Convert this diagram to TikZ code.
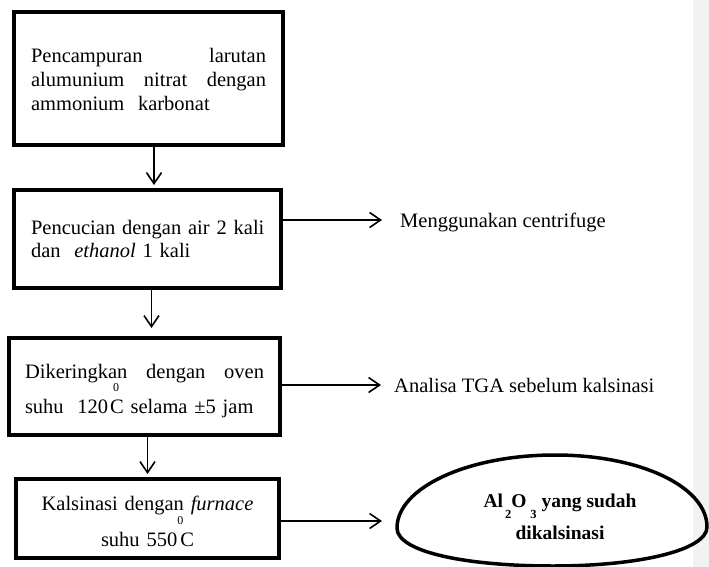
\documentclass[tikz,border=0pt]{standalone}
\usepackage{fontspec}
\setmainfont{Liberation Serif}
\usetikzlibrary{arrows.meta}
\definecolor{panel}{RGB}{242,242,242}
\newcommand\degz[2]{\makebox[0pt][l]{\hspace{#2}\raisebox{#1}[0pt][0pt]{\fontsize{12}{12}\selectfont 0}}}
\newcommand\subl[1]{\raisebox{-11pt}[0pt][0pt]{\fontsize{12.5}{12.5}\selectfont #1}}
\newcommand\jline[2]{\leavevmode\hbox to #1{#2}}
\begin{document}
\begin{tikzpicture}[x=1pt,y=-1pt,
  box/.style={draw,line width=4pt,inner sep=0pt,align=left,
    font=\fontsize{20.5}{23.5}\selectfont},
  arr/.style={line width=1.6pt,-{Straight Barb[length=11pt,width=15pt]}},
  lbl/.style={font=\fontsize{20.5}{23.5}\selectfont,anchor=base west,inner sep=0pt}]
\useasboundingbox (0,0) rectangle (709,567);
\fill[panel] (693,0) rectangle (709,567);

\node[box,font=\fontsize{20.5}{24}\selectfont,minimum width=269pt,minimum height=133pt,text width=235pt] (b1) at (148.5,78.5)
  {\rule{0pt}{17pt}\jline{235pt}{Pencampuran\hfill larutan}\\
   \jline{235pt}{alumunium\hfill nitrat\hfill dengan}\\
   ammonium\ \ karbonat};
\node[box,minimum width=267pt,minimum height=98pt,text width=233pt] (b2) at (147.5,239)
  {\mbox{Pencucian dengan air 2 kali}\\
   dan\ \ \textit{ethanol} 1 kali};
\node[box,minimum width=271pt,minimum height=97pt,text width=239pt] (b3) at (144.5,386.5)
  {\rule{0pt}{22.5pt}\jline{239pt}{Dikeringkan\hfill dengan\hfill oven}\\[11.5pt]
   suhu\ \ 120\kern2pt\degz{21.5pt}{3pt}C selama ±5 jam};
\node[box,minimum width=263pt,minimum height=79pt,text width=231pt,align=center] (b4) at (147.5,518.5)
  {\rule{0pt}{20pt}Kalsinasi dengan \textit{furnace}\\[12pt]
   suhu 550\kern3pt\degz{21.5pt}{-3pt}C};

\node[lbl] (l1) at (400,227) {Menggunakan centrifuge};
\node[lbl] (l2) at (394,392) {Analisa TGA sebelum kalsinasi};

\draw[line width=3.5pt] (397,528) .. controls (397,488) and (467,455) .. (555,455)
  .. controls (641,455) and (707,487) .. (707,527)
  .. controls (707,550) and (640,566) .. (553,566)
  .. controls (466,566) and (397,552) .. cycle;
\node[font=\bfseries\fontsize{19.5}{32}\selectfont,align=center,inner sep=0pt] (res) at (560,517)
  {Al\kern2pt\subl{2}O\kern4pt\subl{3} yang sudah\\ dikalsinasi};

\coordinate (a1) at (154,185);
\coordinate (a2) at (151.5,328);
\coordinate (a3) at (147.5,474);
\coordinate (h1) at (382,220);
\coordinate (h2) at (381,385);
\coordinate (h3) at (382,521);
\draw[arr] (b1.south -| a1) -- (a1);
\draw[arr] (b2.south -| a2) -- (a2);
\draw[arr] (b3.south -| a3) -- (a3);
\draw[arr] (b2.east |- h1) -- (h1);
\draw[arr] (b3.east |- h2) -- (h2);
\draw[arr] (b4.east |- h3) -- (h3);
\end{tikzpicture}
\end{document}
